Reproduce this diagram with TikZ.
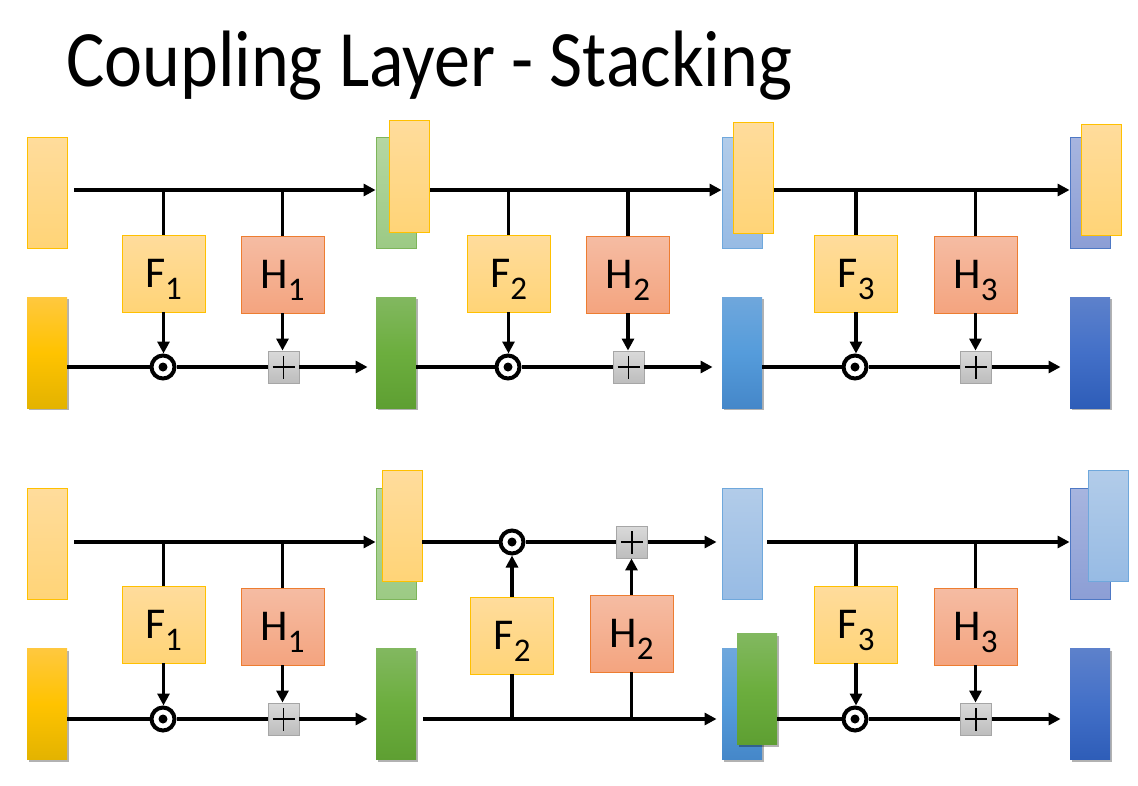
\documentclass[tikz,border=0pt]{standalone}
\usepackage{fontspec}
\setmainfont{Carlito}
\usetikzlibrary{arrows.meta,shadows,calc}
\definecolor{LOa}{HTML}{FFDC9C}\definecolor{LOb}{HTML}{FFD477}\definecolor{LOd}{HTML}{FFC000}
\definecolor{DOa}{HTML}{FFC83F}\definecolor{DOm}{HTML}{FFC300}\definecolor{DOb}{HTML}{E3B300}
\definecolor{GSa}{HTML}{82B860}\definecolor{GSm}{HTML}{6CAE3E}\definecolor{GSb}{HTML}{5E9F32}
\definecolor{GLa}{HTML}{B5D7A2}\definecolor{GLb}{HTML}{9CCA84}\definecolor{GLd}{HTML}{7DB55A}
\definecolor{BSa}{HTML}{6FA7DC}\definecolor{BSm}{HTML}{559CDB}\definecolor{BSb}{HTML}{4587C9}
\definecolor{BLa}{HTML}{B2CCE9}\definecolor{BLb}{HTML}{97BBE4}\definecolor{BLd}{HTML}{6FA8DC}
\definecolor{DSa}{HTML}{5D81CB}\definecolor{DSm}{HTML}{4370C8}\definecolor{DSb}{HTML}{2E5DB8}
\definecolor{DLa}{HTML}{A7B5DF}\definecolor{DLb}{HTML}{8C9ED5}\definecolor{DLd}{HTML}{4E78C4}
\definecolor{HBa}{HTML}{F5BCA3}\definecolor{HBb}{HTML}{F4A47F}\definecolor{HBd}{HTML}{ED7D31}
\definecolor{PBa}{HTML}{DADADA}\definecolor{PBb}{HTML}{BDBDBD}\definecolor{PBd}{HTML}{A6A6A6}
\newcommand\boxlab[2]{#1\raisebox{-12pt}[0pt][0pt]{\fontsize{33}{33}\selectfont #2}}
\tikzset{
  tall/.style={inner sep=0pt, minimum width=40pt, minimum height=111pt, line width=0.9pt},
  shad/.style={drop shadow={shadow xshift=1.5pt, shadow yshift=-2pt, opacity=0.3, fill=black}},
  lorange/.style={tall, draw=LOd, top color=LOa, bottom color=LOb},
  dorange/.style={tall, shad, top color=DOa, bottom color=DOb, middle color=DOm},
  greenS/.style={tall, shad, top color=GSa, bottom color=GSb, middle color=GSm},
  greenL/.style={tall, draw=GLd, top color=GLa, bottom color=GLb},
  blueS/.style={tall, shad, top color=BSa, bottom color=BSb, middle color=BSm},
  blueL/.style={tall, draw=BLd, top color=BLa, bottom color=BLb},
  dblueS/.style={tall, shad, top color=DSa, bottom color=DSb, middle color=DSm},
  dblueL/.style={tall, draw=DLd, top color=DLa, bottom color=DLb},
  fn/.style={inner sep=0pt, minimum width=83pt, minimum height=77pt, line width=0.9pt,
     font=\fontsize{44}{44}\selectfont},
  fbox/.style={fn, draw=LOd, top color=LOa, bottom color=LOb},
  hbox/.style={fn, draw=HBd, top color=HBa, bottom color=HBb},
  odot/.style={circle, draw=black, line width=4pt, fill=white, minimum size=23pt, inner sep=0pt,
     path picture={\fill[black] (path picture bounding box.center) circle (4.5pt);}},
  plusbox/.style={inner sep=0pt, minimum width=31pt, minimum height=32pt, line width=0.9pt,
     draw=PBd, top color=PBa, bottom color=PBb,
     path picture={\draw[black, line width=1.4pt] ([xshift=-11pt]path picture bounding box.center) -- ([xshift=11pt]path picture bounding box.center);
                   \draw[black, line width=1.4pt] ([yshift=-11.5pt]path picture bounding box.center) -- ([yshift=11.5pt]path picture bounding box.center);}},
  ln/.style={line width=3.6pt},
  arr/.style={line width=3.6pt, -{Triangle[length=12pt,width=12pt]}},
}
\begin{document}
\begin{tikzpicture}[x=1pt,y=-1pt]
\useasboundingbox (0,0) rectangle (1138,785);
\node[anchor=base west, inner sep=0pt, font=\fontsize{80}{80}\selectfont] (title) at (66,86) {\scalebox{0.9}[1]{Coupling Layer - Stacking}};
\coordinate (T1) at (0,190); \coordinate (B1) at (0,367);
\coordinate (T2) at (0,542); \coordinate (B2) at (0,719);
% ---------- top panel ----------
\node[lorange] (a1) at (47,192.5) {};
\node[dorange] (b1) at (47,352.5) {};
\node[fbox] (f1) at (163.5,273.5) {\boxlab{F}{1}};
\node[hbox] (h1) at (282.5,274.5) {\boxlab{H}{1}};
\node[odot] (o1) at (163,367) {};
\node[plusbox] (p1) at (283.5,367) {};
\node[greenL] (g1L) at (396,192.5) {};
\node[lorange, minimum height=112pt] (g1O) at (409.5,176) {};
\node[greenS] (g1) at (396,352.5) {};
\node[fbox] (f2) at (508.5,273.5) {\boxlab{F}{2}};
\node[hbox] (h2) at (628,274.5) {\boxlab{H}{2}};
\node[odot] (o2) at (508,367) {};
\node[plusbox] (p2) at (628.5,367) {};
\node[blueL] (c1L) at (742,192.5) {};
\node[lorange] (c1O) at (753.5,177.5) {};
\node[blueS] (c1) at (742,352.5) {};
\node[fbox] (f3) at (856,273.5) {\boxlab{F}{3}};
\node[hbox] (h3) at (975.5,274.5) {\boxlab{H}{3}};
\node[odot] (o3) at (855,367) {};
\node[plusbox] (p3) at (976,367) {};
\node[dblueL] (d1L) at (1090,192.5) {};
\node[lorange] (d1O) at (1101,179.5) {};
\node[dblueS] (d1) at (1090,352.5) {};
% connectors top panel
\draw[arr] ([xshift=7pt]a1.east |- T1) -- (g1L.west |- T1);
\draw[ln] (f1.north |- T1) -- (f1.north);
\draw[ln] (h1.north |- T1) -- (h1.north);
\draw[arr] (f1.south) -- (f1.south |- o1.north);
\draw[arr] (h1.south) -- (h1.south |- p1.north);
\draw[ln] (b1.east |- B1) -- (o1.west);
\draw[ln] (o1.east) -- (p1.west);
\draw[arr, shorten >=8pt] (p1.east) -- (g1.west |- B1);
\draw[arr] (g1O.east |- T1) -- (c1L.west |- T1);
\draw[ln] (f2.north |- T1) -- (f2.north);
\draw[ln] (h2.north |- T1) -- (h2.north);
\draw[arr] (f2.south) -- (f2.south |- o2.north);
\draw[arr] (h2.south) -- (h2.south |- p2.north);
\draw[ln] (g1.east |- B1) -- (o2.west);
\draw[ln] (o2.east) -- (p2.west);
\draw[arr, shorten >=9pt] (p2.east) -- (c1.west |- B1);
\draw[arr] (c1O.east |- T1) -- (d1L.west |- T1);
\draw[ln] (f3.north |- T1) -- (f3.north);
\draw[ln] (h3.north |- T1) -- (h3.north);
\draw[arr] (f3.south) -- (f3.south |- o3.north);
\draw[arr] (h3.south) -- (h3.south |- p3.north);
\draw[ln] (c1.east |- B1) -- (o3.west);
\draw[ln] (o3.east) -- (p3.west);
\draw[arr, shorten >=9pt] (p3.east) -- (d1.west |- B1);
% ---------- bottom panel ----------
\node[lorange] (a2) at (47,544) {};
\node[dorange] (b2) at (47,704) {};
\node[fbox] (F1b) at (163.5,624.5) {\boxlab{F}{1}};
\node[hbox] (H1b) at (282.5,626.5) {\boxlab{H}{1}};
\node[odot] (o4) at (163,719) {};
\node[plusbox] (p4) at (283.5,719) {};
\node[greenL] (g2L) at (396,544) {};
\node[lorange] (g2O) at (402,525.5) {};
\node[greenS] (g2) at (396,704) {};
\node[fbox] (F2b) at (512,635.5) {\boxlab{F}{2}};
\node[hbox] (H2b) at (631.5,633.5) {\boxlab{H}{2}};
\node[odot] (o5) at (512,542) {};
\node[plusbox] (p5) at (632,542) {};
\node[blueL] (c2L) at (742,544) {};
\node[blueS] (c2) at (742,704) {};
\node[greenS] (c2O) at (757,689) {};
\node[fbox] (F3b) at (856,624.5) {\boxlab{F}{3}};
\node[hbox] (H3b) at (975.5,626.5) {\boxlab{H}{3}};
\node[odot] (o6) at (855,719) {};
\node[plusbox] (p6) at (976,719) {};
\node[dblueL] (d2L) at (1090,544) {};
\node[blueL] (d2O) at (1108,525.5) {};
\node[dblueS] (d2) at (1090,704) {};
% connectors bottom panel
\draw[arr] ([xshift=7pt]a2.east |- T2) -- (g2L.west |- T2);
\draw[ln] (F1b.north |- T2) -- (F1b.north);
\draw[ln] (H1b.north |- T2) -- (H1b.north);
\draw[arr] (F1b.south) -- (F1b.south |- o4.north);
\draw[arr] (H1b.south) -- (H1b.south |- p4.north);
\draw[ln] (b2.east |- B2) -- (o4.west);
\draw[ln] (o4.east) -- (p4.west);
\draw[arr, shorten >=8pt] (p4.east) -- (g2.west |- B2);
\draw[ln] (g2O.east |- T2) -- (o5.west);
\draw[ln] (o5.east) -- (p5.west);
\draw[arr, shorten >=5pt] (p5.east) -- (c2L.west |- T2);
\draw[arr, shorten >=5pt] ([xshift=7pt]g2.east |- B2) -- (c2.west |- B2);
\draw[ln] (F2b.south |- B2) -- (F2b.south);
\draw[ln] (H2b.south |- B2) -- (H2b.south);
\draw[arr] (F2b.north) -- (F2b.north |- o5.south);
\draw[arr] (H2b.north) -- (H2b.north |- p5.south);
\draw[arr] ([xshift=5pt]c2L.east |- T2) -- (d2L.west |- T2);
\draw[ln] (F3b.north |- T2) -- (F3b.north);
\draw[ln] (H3b.north |- T2) -- (H3b.north);
\draw[arr] (F3b.south) -- (F3b.south |- o6.north);
\draw[arr] (H3b.south) -- (H3b.south |- p6.north);
\draw[ln] (c2O.east |- B2) -- (o6.west);
\draw[ln] (o6.east) -- (p6.west);
\draw[arr, shorten >=9pt] (p6.east) -- (d2.west |- B2);
\end{tikzpicture}
\end{document}
